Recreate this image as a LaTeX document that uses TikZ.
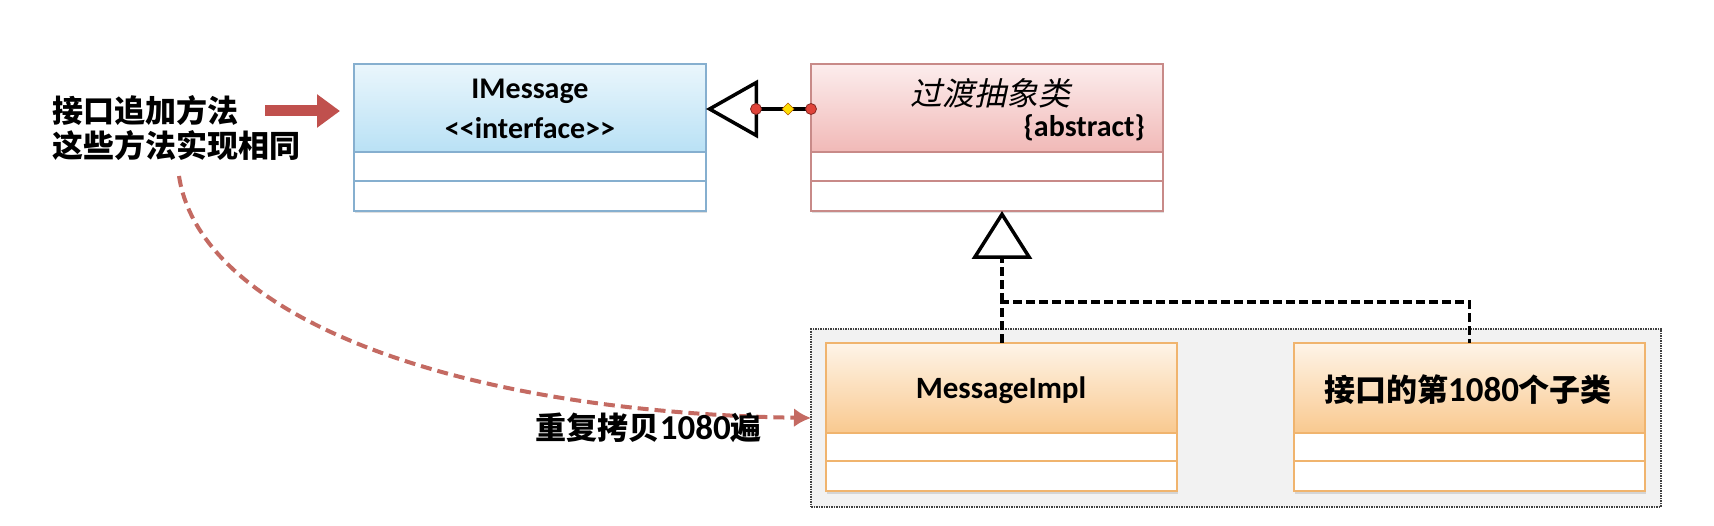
\documentclass[tikz,border=0pt]{standalone}
\usepackage{fontspec}
\setmainfont{Carlito}
\newfontfamily\cjk{Noto Sans CJK SC}
\newfontfamily\cjkit{Noto Sans CJK SC}[FakeSlant=0.22]
\usetikzlibrary{arrows.meta,shadows}
\definecolor{bluetop}{HTML}{EAF6FC}
\definecolor{bluebot}{HTML}{B9E1F5}
\definecolor{blueline}{HTML}{86AFCF}
\definecolor{pinktop}{HTML}{FCEDED}
\definecolor{pinkbot}{HTML}{F1B9B7}
\definecolor{pinkline}{HTML}{C88A88}
\definecolor{orgtop}{HTML}{FEF4E8}
\definecolor{orgbot}{HTML}{F9C98F}
\definecolor{orgline}{HTML}{F0B46E}
\definecolor{redarrow}{HTML}{C0504D}
\definecolor{curvecol}{HTML}{C46A62}
\definecolor{contfill}{HTML}{F2F2F2}
\definecolor{handlered}{HTML}{E0443A}
\newcommand\dig[1]{{\fontsize{35}{36}\selectfont\rmfamily\bfseries #1}}
\begin{document}
\begin{tikzpicture}[x=1pt,y=-1pt,
  frame/.style={anchor=north west, inner sep=0pt, outer sep=0pt, fill=white, line width=1.5pt,
    drop shadow={shadow xshift=1pt, shadow yshift=-2.5pt, opacity=0.25}},
  hdr/.style={anchor=north west, inner sep=0pt, outer sep=0pt, line width=1.5pt},
  cmp/.style={anchor=north west, inner sep=0pt, outer sep=0pt, line width=1.5pt, fill=white},
  lat/.style={inner sep=0pt, font=\fontsize{30}{36}\selectfont\bfseries},
  zhlbl/.style={inner sep=0pt, font=\fontsize{31}{36}\selectfont\cjk\bfseries},
  gen/.style={draw=black, line width=3.5pt},
  dashline/.style={draw=black, line width=3.5pt, dash pattern=on 9pt off 4pt},
  curvy/.style={draw=curvecol, line width=4pt, dash pattern=on 11pt off 6pt, -{Latex[length=17pt,width=19pt]}},
  bigarrow/.style={draw=redarrow, line width=11pt, -{Triangle[length=23pt,width=32pt]}}
]
\useasboundingbox (0,0) rectangle (1714,526);
\fill[white] (0,0) rectangle (1714,526);

% container
\node[anchor=north west, inner sep=0pt, outer sep=0pt, fill=contfill, draw=black!75,
  line width=1.5pt, dash pattern=on 1.5pt off 1pt, minimum width=850pt, minimum height=178pt] (ct) at (811,329) {};

% IMessage
\node[frame, draw=blueline, minimum width=352pt, minimum height=147pt] (im) at (354,64) {};
\node[hdr, draw=blueline, top color=bluetop, bottom color=bluebot, minimum width=352pt, minimum height=88pt] (imh) at (354,64) {};
\node[cmp, draw=blueline, minimum width=352pt, minimum height=29pt] (imc1) at (354,152) {};
\node[cmp, draw=blueline, minimum width=352pt, minimum height=30pt] (imc2) at (354,181) {};
\node[lat] (imt1) at (530,91) {IMessage};
\node[lat] (imt2) at (530,128) {\hbox{<}\hbox{<}interface\hbox{>}\hbox{>}};

% abstract class
\node[frame, draw=pinkline, minimum width=352pt, minimum height=147pt] (ab) at (811,64) {};
\node[hdr, draw=pinkline, top color=pinktop, bottom color=pinkbot, minimum width=352pt, minimum height=88pt] (abh) at (811,64) {};
\node[cmp, draw=pinkline, minimum width=352pt, minimum height=29pt] (abc1) at (811,152) {};
\node[cmp, draw=pinkline, minimum width=352pt, minimum height=30pt] (abc2) at (811,181) {};
\node[inner sep=0pt, font=\fontsize{32}{36}\selectfont\cjkit] (abt1) at (990,93) {过渡抽象类};
\node[lat, anchor=east] (abt2) at (1145,128) {\{abstract\}};

% MessageImpl
\node[frame, draw=orgline, minimum width=351pt, minimum height=148pt] (mi) at (826,343) {};
\node[hdr, draw=orgline, top color=orgtop, bottom color=orgbot, minimum width=351pt, minimum height=90pt] (mih) at (826,343) {};
\node[cmp, draw=orgline, minimum width=351pt, minimum height=28pt] (mic1) at (826,433) {};
\node[cmp, draw=orgline, minimum width=351pt, minimum height=30pt] (mic2) at (826,461) {};
\node[lat, font=\fontsize{31}{36}\selectfont\bfseries] (mit) at (1001,390) {MessageImpl};

% 1080th subclass
\node[frame, draw=orgline, minimum width=351pt, minimum height=148pt] (sb) at (1294,343) {};
\node[hdr, draw=orgline, top color=orgtop, bottom color=orgbot, minimum width=351pt, minimum height=90pt] (sbh) at (1294,343) {};
\node[cmp, draw=orgline, minimum width=351pt, minimum height=28pt] (sbc1) at (1294,433) {};
\node[cmp, draw=orgline, minimum width=351pt, minimum height=30pt] (sbc2) at (1294,461) {};
\node[zhlbl] (sbt) at (1468,390) {接口的第\dig{1080}个子类};

% left texts
\node[zhlbl, anchor=west] (l1) at (52,111) {接口追加方法};
\node[zhlbl, anchor=west] (l2) at (52,146) {这些方法实现相同};
\draw[bigarrow] ([xshift=27pt]l1.east) -- ([xshift=-14pt]im.west |- l1.east);

% generalization abstract -> IMessage
\draw[gen, -{Triangle[fill=white, length=52pt, width=58pt, line width=3.5pt]}]
  ([yshift=28.5pt]ab.west) -- ([yshift=28.5pt]im.east);
\fill[handlered, draw=handlered!60!black, line width=0.8pt] ([yshift=28.5pt]ab.west) circle (5.5pt);
\fill[handlered, draw=handlered!60!black, line width=0.8pt] ([xshift=50pt,yshift=28.5pt]im.east) circle (5.5pt);
\fill[yellow!80!orange, draw=orange!70!black, line width=0.6pt]
  ([xshift=76pt,yshift=28.5pt]im.east) -- ++(6,-6) -- ++(6,6) -- ++(-6,6) -- cycle;

% realization subclasses -> abstract
\coordinate (j) at (1002,302);
\draw[dashline] (mi.north -| j) -- (j) -| (sb.north);
\draw[dashline, -{Triangle[fill=white, length=48pt, width=60pt, line width=3.5pt]}] (j) -- (ab.south -| j);

% dashed curve
\coordinate (cs) at (179,176);
\draw[curvy] (cs) .. controls (200,315) and (450,412) .. (ct.west);
\node[zhlbl, anchor=east] (cl) at (762,428) {重复拷贝\dig{1080}遍};
\end{tikzpicture}
\end{document}
